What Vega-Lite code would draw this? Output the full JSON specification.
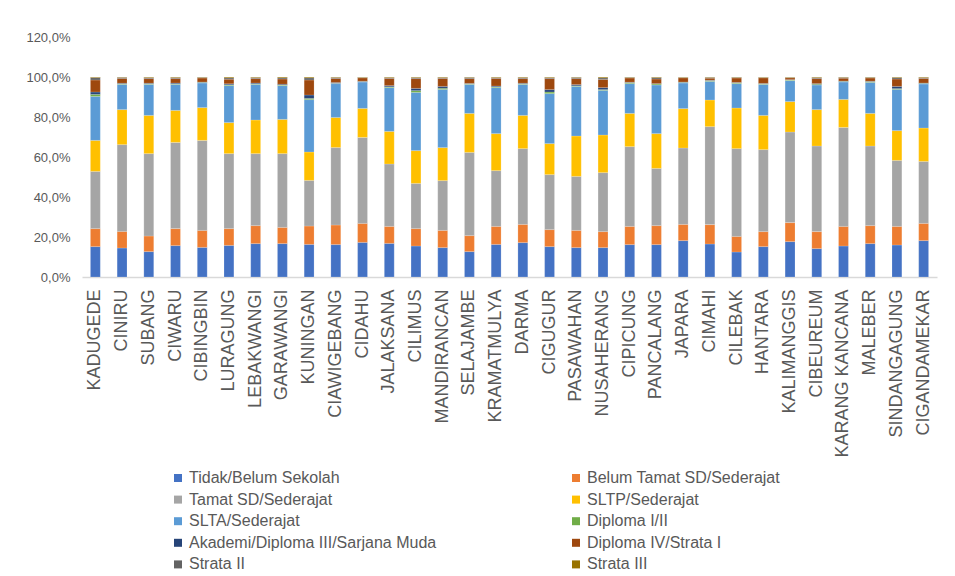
{
  "$schema": "https://vega.github.io/schema/vega-lite/v6.json",
  "autosize": {"type": "none"},
  "width": 855,
  "height": 240,
  "padding": {"left": 82, "top": 37, "right": 18, "bottom": 299},
  "background": "white",
  "config": {
    "view": {"stroke": null},
    "font": "Liberation Sans"
  },
  "datasets": {
    "urutan": [
      {"kategori": "Tidak/Belum Sekolah", "n": 1},
      {"kategori": "Belum Tamat SD/Sederajat", "n": 2},
      {"kategori": "Tamat SD/Sederajat", "n": 3},
      {"kategori": "SLTP/Sederajat", "n": 4},
      {"kategori": "SLTA/Sederajat", "n": 5},
      {"kategori": "Diploma I/II", "n": 6},
      {"kategori": "Akademi/Diploma III/Sarjana Muda", "n": 7},
      {"kategori": "Diploma IV/Strata I", "n": 8},
      {"kategori": "Strata II", "n": 9},
      {"kategori": "Strata III", "n": 10}
    ]
  },
  "data": {
    "values": [
      {"d": "KADUGEDE", "Tidak/Belum Sekolah": 15.2, "Belum Tamat SD/Sederajat": 9.0, "Tamat SD/Sederajat": 28.6, "SLTP/Sederajat": 15.5, "SLTA/Sederajat": 22.0, "Diploma I/II": 1.0, "Akademi/Diploma III/Sarjana Muda": 1.2, "Diploma IV/Strata I": 6.0, "Strata II": 1.2, "Strata III": 0.3},
      {"d": "CINIRU", "Tidak/Belum Sekolah": 14.5, "Belum Tamat SD/Sederajat": 8.3, "Tamat SD/Sederajat": 43.4, "SLTP/Sederajat": 17.5, "SLTA/Sederajat": 12.6, "Diploma I/II": 0.3, "Akademi/Diploma III/Sarjana Muda": 0.3, "Diploma IV/Strata I": 2.4, "Strata II": 0.5, "Strata III": 0.2},
      {"d": "SUBANG", "Tidak/Belum Sekolah": 12.7, "Belum Tamat SD/Sederajat": 7.8, "Tamat SD/Sederajat": 41.2, "SLTP/Sederajat": 19.1, "SLTA/Sederajat": 15.5, "Diploma I/II": 0.3, "Akademi/Diploma III/Sarjana Muda": 0.3, "Diploma IV/Strata I": 2.3, "Strata II": 0.5, "Strata III": 0.3},
      {"d": "CIWARU", "Tidak/Belum Sekolah": 15.7, "Belum Tamat SD/Sederajat": 8.5, "Tamat SD/Sederajat": 43.1, "SLTP/Sederajat": 16.0, "SLTA/Sederajat": 13.0, "Diploma I/II": 0.3, "Akademi/Diploma III/Sarjana Muda": 0.4, "Diploma IV/Strata I": 2.2, "Strata II": 0.5, "Strata III": 0.3},
      {"d": "CIBINGBIN", "Tidak/Belum Sekolah": 14.8, "Belum Tamat SD/Sederajat": 8.5, "Tamat SD/Sederajat": 45.0, "SLTP/Sederajat": 16.4, "SLTA/Sederajat": 12.3, "Diploma I/II": 0.3, "Akademi/Diploma III/Sarjana Muda": 0.2, "Diploma IV/Strata I": 2.0, "Strata II": 0.3, "Strata III": 0.2},
      {"d": "LURAGUNG", "Tidak/Belum Sekolah": 15.8, "Belum Tamat SD/Sederajat": 8.4, "Tamat SD/Sederajat": 37.5, "SLTP/Sederajat": 15.5, "SLTA/Sederajat": 18.5, "Diploma I/II": 0.4, "Akademi/Diploma III/Sarjana Muda": 0.5, "Diploma IV/Strata I": 2.3, "Strata II": 0.7, "Strata III": 0.4},
      {"d": "LEBAKWANGI", "Tidak/Belum Sekolah": 16.7, "Belum Tamat SD/Sederajat": 9.0, "Tamat SD/Sederajat": 36.0, "SLTP/Sederajat": 16.8, "SLTA/Sederajat": 17.8, "Diploma I/II": 0.3, "Akademi/Diploma III/Sarjana Muda": 0.4, "Diploma IV/Strata I": 2.2, "Strata II": 0.5, "Strata III": 0.3},
      {"d": "GARAWANGI", "Tidak/Belum Sekolah": 16.7, "Belum Tamat SD/Sederajat": 8.1, "Tamat SD/Sederajat": 36.9, "SLTP/Sederajat": 17.1, "SLTA/Sederajat": 16.9, "Diploma I/II": 0.3, "Akademi/Diploma III/Sarjana Muda": 0.4, "Diploma IV/Strata I": 2.6, "Strata II": 0.6, "Strata III": 0.4},
      {"d": "KUNINGAN", "Tidak/Belum Sekolah": 16.3, "Belum Tamat SD/Sederajat": 9.2, "Tamat SD/Sederajat": 22.8, "SLTP/Sederajat": 14.2, "SLTA/Sederajat": 26.2, "Diploma I/II": 0.6, "Akademi/Diploma III/Sarjana Muda": 1.7, "Diploma IV/Strata I": 7.5, "Strata II": 1.1, "Strata III": 0.4},
      {"d": "CIAWIGEBANG", "Tidak/Belum Sekolah": 16.2, "Belum Tamat SD/Sederajat": 9.8, "Tamat SD/Sederajat": 38.7, "SLTP/Sederajat": 15.1, "SLTA/Sederajat": 16.9, "Diploma I/II": 0.2, "Akademi/Diploma III/Sarjana Muda": 0.4, "Diploma IV/Strata I": 2.0, "Strata II": 0.4, "Strata III": 0.3},
      {"d": "CIDAHU", "Tidak/Belum Sekolah": 17.3, "Belum Tamat SD/Sederajat": 9.5, "Tamat SD/Sederajat": 43.0, "SLTP/Sederajat": 14.5, "SLTA/Sederajat": 13.2, "Diploma I/II": 0.2, "Akademi/Diploma III/Sarjana Muda": 0.2, "Diploma IV/Strata I": 1.7, "Strata II": 0.2, "Strata III": 0.2},
      {"d": "JALAKSANA", "Tidak/Belum Sekolah": 16.8, "Belum Tamat SD/Sederajat": 8.5, "Tamat SD/Sederajat": 31.2, "SLTP/Sederajat": 16.3, "SLTA/Sederajat": 21.9, "Diploma I/II": 0.4, "Akademi/Diploma III/Sarjana Muda": 0.6, "Diploma IV/Strata I": 3.6, "Strata II": 0.4, "Strata III": 0.3},
      {"d": "CILIMUS", "Tidak/Belum Sekolah": 15.5, "Belum Tamat SD/Sederajat": 8.7, "Tamat SD/Sederajat": 22.6, "SLTP/Sederajat": 16.4, "SLTA/Sederajat": 29.1, "Diploma I/II": 0.9, "Akademi/Diploma III/Sarjana Muda": 1.1, "Diploma IV/Strata I": 4.9, "Strata II": 0.5, "Strata III": 0.3},
      {"d": "MANDIRANCAN", "Tidak/Belum Sekolah": 14.7, "Belum Tamat SD/Sederajat": 8.6, "Tamat SD/Sederajat": 24.9, "SLTP/Sederajat": 16.5, "SLTA/Sederajat": 29.1, "Diploma I/II": 0.6, "Akademi/Diploma III/Sarjana Muda": 0.9, "Diploma IV/Strata I": 4.0, "Strata II": 0.4, "Strata III": 0.3},
      {"d": "SELAJAMBE", "Tidak/Belum Sekolah": 12.7, "Belum Tamat SD/Sederajat": 8.0, "Tamat SD/Sederajat": 41.6, "SLTP/Sederajat": 19.5, "SLTA/Sederajat": 14.5, "Diploma I/II": 0.3, "Akademi/Diploma III/Sarjana Muda": 0.2, "Diploma IV/Strata I": 2.4, "Strata II": 0.6, "Strata III": 0.2},
      {"d": "KRAMATMULYA", "Tidak/Belum Sekolah": 16.3, "Belum Tamat SD/Sederajat": 9.0, "Tamat SD/Sederajat": 27.9, "SLTP/Sederajat": 18.5, "SLTA/Sederajat": 23.0, "Diploma I/II": 0.4, "Akademi/Diploma III/Sarjana Muda": 0.4, "Diploma IV/Strata I": 3.8, "Strata II": 0.4, "Strata III": 0.3},
      {"d": "DARMA", "Tidak/Belum Sekolah": 17.2, "Belum Tamat SD/Sederajat": 9.1, "Tamat SD/Sederajat": 37.9, "SLTP/Sederajat": 16.6, "SLTA/Sederajat": 15.5, "Diploma I/II": 0.3, "Akademi/Diploma III/Sarjana Muda": 0.3, "Diploma IV/Strata I": 2.3, "Strata II": 0.5, "Strata III": 0.3},
      {"d": "CIGUGUR", "Tidak/Belum Sekolah": 15.2, "Belum Tamat SD/Sederajat": 8.5, "Tamat SD/Sederajat": 27.5, "SLTP/Sederajat": 15.5, "SLTA/Sederajat": 25.0, "Diploma I/II": 0.8, "Akademi/Diploma III/Sarjana Muda": 1.2, "Diploma IV/Strata I": 5.5, "Strata II": 0.5, "Strata III": 0.3},
      {"d": "PASAWAHAN", "Tidak/Belum Sekolah": 14.7, "Belum Tamat SD/Sederajat": 8.6, "Tamat SD/Sederajat": 27.0, "SLTP/Sederajat": 20.2, "SLTA/Sederajat": 24.8, "Diploma I/II": 0.3, "Akademi/Diploma III/Sarjana Muda": 0.6, "Diploma IV/Strata I": 3.0, "Strata II": 0.6, "Strata III": 0.2},
      {"d": "NUSAHERANG", "Tidak/Belum Sekolah": 14.7, "Belum Tamat SD/Sederajat": 8.0, "Tamat SD/Sederajat": 29.5, "SLTP/Sederajat": 18.8, "SLTA/Sederajat": 22.3, "Diploma I/II": 0.4, "Akademi/Diploma III/Sarjana Muda": 1.0, "Diploma IV/Strata I": 4.1, "Strata II": 0.8, "Strata III": 0.4},
      {"d": "CIPICUNG", "Tidak/Belum Sekolah": 16.2, "Belum Tamat SD/Sederajat": 9.1, "Tamat SD/Sederajat": 39.9, "SLTP/Sederajat": 16.6, "SLTA/Sederajat": 14.9, "Diploma I/II": 0.5, "Akademi/Diploma III/Sarjana Muda": 0.2, "Diploma IV/Strata I": 2.1, "Strata II": 0.3, "Strata III": 0.2},
      {"d": "PANCALANG", "Tidak/Belum Sekolah": 16.2, "Belum Tamat SD/Sederajat": 9.5, "Tamat SD/Sederajat": 28.6, "SLTP/Sederajat": 17.4, "SLTA/Sederajat": 24.3, "Diploma I/II": 0.5, "Akademi/Diploma III/Sarjana Muda": 0.2, "Diploma IV/Strata I": 2.3, "Strata II": 0.7, "Strata III": 0.3},
      {"d": "JAPARA", "Tidak/Belum Sekolah": 18.2, "Belum Tamat SD/Sederajat": 8.1, "Tamat SD/Sederajat": 38.2, "SLTP/Sederajat": 19.7, "SLTA/Sederajat": 12.8, "Diploma I/II": 0.3, "Akademi/Diploma III/Sarjana Muda": 0.2, "Diploma IV/Strata I": 2.1, "Strata II": 0.2, "Strata III": 0.2},
      {"d": "CIMAHI", "Tidak/Belum Sekolah": 16.5, "Belum Tamat SD/Sederajat": 9.7, "Tamat SD/Sederajat": 49.0, "SLTP/Sederajat": 13.3, "SLTA/Sederajat": 9.3, "Diploma I/II": 0.4, "Akademi/Diploma III/Sarjana Muda": 0.2, "Diploma IV/Strata I": 1.0, "Strata II": 0.4, "Strata III": 0.2},
      {"d": "CILEBAK", "Tidak/Belum Sekolah": 12.5, "Belum Tamat SD/Sederajat": 7.8, "Tamat SD/Sederajat": 43.9, "SLTP/Sederajat": 20.3, "SLTA/Sederajat": 12.2, "Diploma I/II": 0.4, "Akademi/Diploma III/Sarjana Muda": 0.2, "Diploma IV/Strata I": 2.2, "Strata II": 0.3, "Strata III": 0.2},
      {"d": "HANTARA", "Tidak/Belum Sekolah": 15.2, "Belum Tamat SD/Sederajat": 7.5, "Tamat SD/Sederajat": 41.0, "SLTP/Sederajat": 17.1, "SLTA/Sederajat": 15.5, "Diploma I/II": 0.3, "Akademi/Diploma III/Sarjana Muda": 0.2, "Diploma IV/Strata I": 2.8, "Strata II": 0.2, "Strata III": 0.2},
      {"d": "KALIMANGGIS", "Tidak/Belum Sekolah": 17.7, "Belum Tamat SD/Sederajat": 9.5, "Tamat SD/Sederajat": 45.3, "SLTP/Sederajat": 15.2, "SLTA/Sederajat": 10.5, "Diploma I/II": 0.3, "Akademi/Diploma III/Sarjana Muda": 0.2, "Diploma IV/Strata I": 0.9, "Strata II": 0.2, "Strata III": 0.2},
      {"d": "CIBEUREUM", "Tidak/Belum Sekolah": 14.2, "Belum Tamat SD/Sederajat": 8.5, "Tamat SD/Sederajat": 42.8, "SLTP/Sederajat": 18.2, "SLTA/Sederajat": 12.3, "Diploma I/II": 0.4, "Akademi/Diploma III/Sarjana Muda": 0.3, "Diploma IV/Strata I": 2.5, "Strata II": 0.5, "Strata III": 0.3},
      {"d": "KARANG KANCANA", "Tidak/Belum Sekolah": 15.5, "Belum Tamat SD/Sederajat": 9.8, "Tamat SD/Sederajat": 49.5, "SLTP/Sederajat": 14.0, "SLTA/Sederajat": 8.7, "Diploma I/II": 0.3, "Akademi/Diploma III/Sarjana Muda": 0.2, "Diploma IV/Strata I": 1.4, "Strata II": 0.4, "Strata III": 0.2},
      {"d": "MALEBER", "Tidak/Belum Sekolah": 16.7, "Belum Tamat SD/Sederajat": 9.0, "Tamat SD/Sederajat": 39.8, "SLTP/Sederajat": 16.3, "SLTA/Sederajat": 15.5, "Diploma I/II": 0.4, "Akademi/Diploma III/Sarjana Muda": 0.2, "Diploma IV/Strata I": 1.6, "Strata II": 0.3, "Strata III": 0.2},
      {"d": "SINDANGAGUNG", "Tidak/Belum Sekolah": 16.0, "Belum Tamat SD/Sederajat": 9.3, "Tamat SD/Sederajat": 33.0, "SLTP/Sederajat": 14.9, "SLTA/Sederajat": 20.6, "Diploma I/II": 0.4, "Akademi/Diploma III/Sarjana Muda": 1.1, "Diploma IV/Strata I": 3.7, "Strata II": 0.7, "Strata III": 0.3},
      {"d": "CIGANDAMEKAR", "Tidak/Belum Sekolah": 18.2, "Belum Tamat SD/Sederajat": 8.6, "Tamat SD/Sederajat": 31.0, "SLTP/Sederajat": 16.7, "SLTA/Sederajat": 22.0, "Diploma I/II": 0.3, "Akademi/Diploma III/Sarjana Muda": 0.2, "Diploma IV/Strata I": 2.3, "Strata II": 0.4, "Strata III": 0.3}
    ]
  },
  "transform": [
    {"fold": ["Tidak/Belum Sekolah", "Belum Tamat SD/Sederajat", "Tamat SD/Sederajat", "SLTP/Sederajat", "SLTA/Sederajat", "Diploma I/II", "Akademi/Diploma III/Sarjana Muda", "Diploma IV/Strata I", "Strata II", "Strata III"], "as": ["kategori", "persen"]},
    {"lookup": "kategori", "from": {"data": {"name": "urutan"}, "key": "kategori", "fields": ["n"]}}
  ],
  "mark": {"type": "bar", "stroke": "white", "strokeOpacity": 0.35, "strokeWidth": 0.5},
  "encoding": {
    "x": {
      "field": "d",
      "type": "nominal",
      "sort": null,
      "scale": {"paddingInner": 0.63, "paddingOuter": 0.315},
      "axis": {
        "title": null,
        "labelAngle": -90,
        "labelAlign": "right",
        "labelBaseline": "middle",
        "labelFontSize": 18,
        "labelColor": "#595959",
        "labelPadding": 12,
        "ticks": false,
        "domainColor": "#d9d9d9",
        "domainWidth": 1.5,
        "labelLimit": 300
      }
    },
    "y": {
      "field": "persen",
      "type": "quantitative",
      "stack": "zero",
      "scale": {"domain": [0, 120], "nice": false},
      "axis": {
        "title": null,
        "values": [0, 20, 40, 60, 80, 100, 120],
        "labelExpr": "replace(format(datum.value, '.1f'), '.', ',') + '%'",
        "labelFontSize": 13,
        "labelColor": "#595959",
        "labelPadding": 12,
        "ticks": false,
        "domain": false,
        "grid": false
      }
    },
    "color": {
      "field": "kategori",
      "type": "nominal",
      "sort": ["Tidak/Belum Sekolah", "Belum Tamat SD/Sederajat", "Tamat SD/Sederajat", "SLTP/Sederajat", "SLTA/Sederajat", "Diploma I/II", "Akademi/Diploma III/Sarjana Muda", "Diploma IV/Strata I", "Strata II", "Strata III"],
      "scale": {
        "domain": ["Tidak/Belum Sekolah", "Belum Tamat SD/Sederajat", "Tamat SD/Sederajat", "SLTP/Sederajat", "SLTA/Sederajat", "Diploma I/II", "Akademi/Diploma III/Sarjana Muda", "Diploma IV/Strata I", "Strata II", "Strata III"],
        "range": ["#4472C4", "#ED7D31", "#A5A5A5", "#FFC000", "#5B9BD5", "#70AD47", "#264478", "#9E480E", "#636363", "#997300"]
      },
      "legend": {
        "title": null,
        "orient": "none",
        "legendX": 88,
        "legendY": 433,
        "direction": "horizontal",
        "columns": 2,
        "columnPadding": 131,
        "rowPadding": 5.6,
        "symbolType": "square",
        "symbolSize": 64,
        "symbolStrokeWidth": 0,
        "labelFontSize": 16,
        "labelColor": "#595959",
        "labelLimit": 400,
        "labelOffset": 3
      }
    },
    "order": {"field": "n", "type": "quantitative", "sort": "ascending"}
  }
}
